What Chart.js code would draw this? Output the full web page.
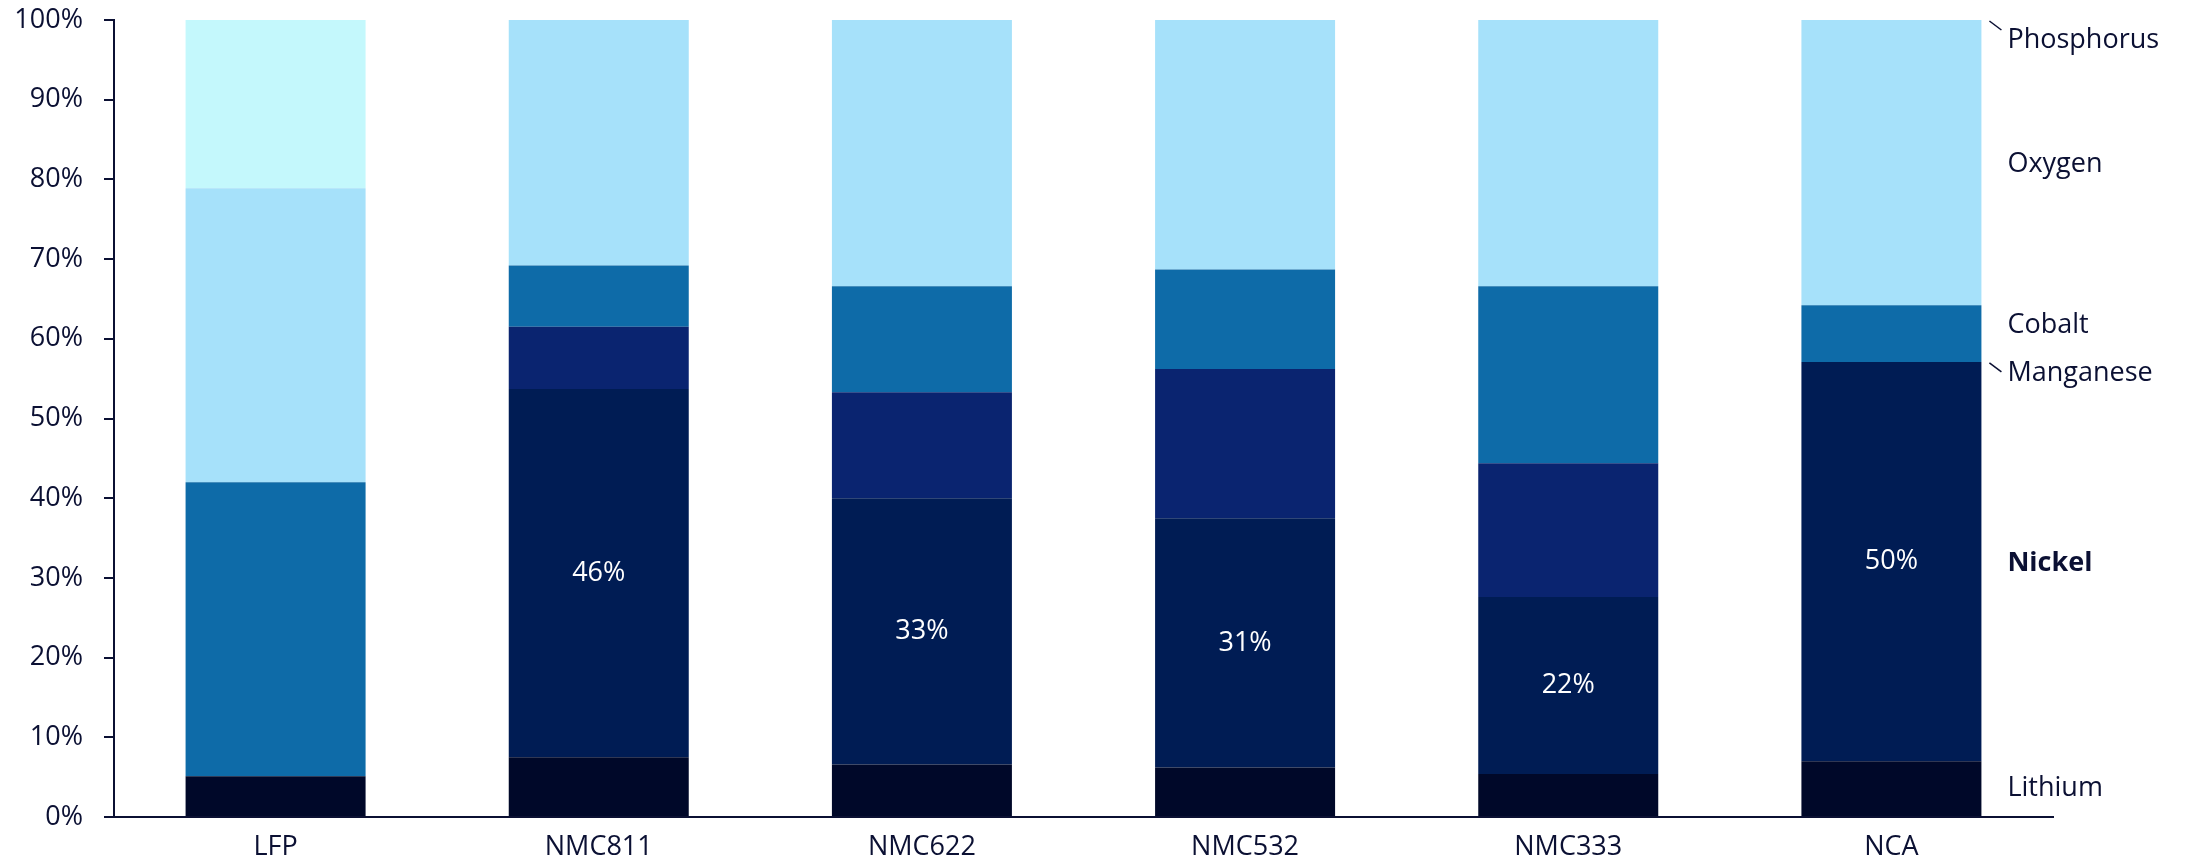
<!DOCTYPE html>
<html>
<head>
<meta charset="utf-8">
<script src="https://cdn.jsdelivr.net/npm/chart.js@4/dist/chart.umd.min.js"></script>
<style>
  html, body { margin: 0; padding: 0; background: #fff; }
  #wrap { width: 2193px; height: 862px; }
</style>
</head>
<body>
<div id="wrap"><canvas id="mix-chart"></canvas></div>
<script>
// Cathode composition by weight share (%)
const categories = ['LFP', 'NMC811', 'NMC622', 'NMC532', 'NMC333', 'NCA'];
const lithium    = [5.1, 7.5, 6.6, 6.2, 5.4, 7.0];
const nickel     = [0, 46.2, 33.4, 31.3, 22.2, 50.1];
const manganese  = [0, 7.8, 13.3, 18.7, 16.8, 0];
const cobalt     = [36.9, 7.7, 13.3, 12.5, 22.2, 7.1];
const oxygen     = [36.9, 30.8, 33.4, 31.3, 33.4, 35.8];
const phosphorus = [21.1, 0, 0, 0, 0, 0];
const yTicks     = [0, 10, 20, 30, 40, 50, 60, 70, 80, 90, 100];

const INK = '#0b1033';
const FONT = '"Open Sans", "Noto Sans", sans-serif';

const series = [
  { label: 'Lithium',    data: lithium,    color: '#000829', dy: 0 },
  { label: 'Nickel',     data: nickel,     color: '#001c54', dy: 2, bold: true, inside: true },
  { label: 'Manganese',  data: manganese,  color: '#0a2470', dy: 11, leader: true },
  { label: 'Cobalt',     data: cobalt,     color: '#0e6ba8', dy: -8 },
  { label: 'Oxygen',     data: oxygen,     color: '#a6e1fa', dy: 2 },
  { label: 'Phosphorus', data: phosphorus, color: '#c4f8fc', dy: 20, leader: true }
];

// labels on the right of the last bar, plus the white % inside nickel segments
const sideLabels = {
  id: 'sideLabels',
  afterDatasetsDraw(chart) {
    const ctx = chart.ctx;
    const last = categories.length - 1;
    ctx.save();
    series.forEach((s, i) => {
      const bar = chart.getDatasetMeta(i).data[last];
      const right = bar.x + bar.width / 2;
      const mid = (bar.y + bar.base) / 2;
      const ty = mid + s.dy;
      ctx.font = (s.bold ? 'bold ' : '') + '27px ' + FONT;
      ctx.fillStyle = INK;
      ctx.textAlign = 'left';
      ctx.textBaseline = 'middle';
      ctx.fillText(s.label, right + 26, ty);
      if (s.leader) {
        ctx.strokeStyle = INK;
        ctx.lineWidth = 1.5;
        ctx.beginPath();
        ctx.moveTo(right + 8, mid + 1);
        ctx.lineTo(right + 20, mid + 10);
        ctx.stroke();
      }
      if (s.inside) {
        chart.getDatasetMeta(i).data.forEach((el, j) => {
          if (!s.data[j]) return;
          ctx.font = '27px ' + FONT;
          ctx.fillStyle = '#ffffff';
          ctx.textAlign = 'center';
          ctx.fillText(Math.round(s.data[j]) + '%', el.x, (el.y + el.base) / 2);
        });
      }
    });
    ctx.restore();
  }
};

new Chart(document.getElementById('mix-chart'), {
  type: 'bar',
  data: {
    labels: categories,
    datasets: series.map(s => ({
      label: s.label,
      data: s.data,
      backgroundColor: s.color,
      borderWidth: 0,
      categoryPercentage: 1,
      barPercentage: 0.557
    }))
  },
  options: {
    responsive: true,
    maintainAspectRatio: false,
    animation: false,
    layout: { padding: { top: 20, right: 140, bottom: 0, left: 0 } },
    plugins: {
      legend: { display: false },
      tooltip: { enabled: false }
    },
    scales: {
      x: {
        stacked: true,
        grid: { display: true, drawOnChartArea: false, drawTicks: false },
        border: { display: true, color: INK, width: 2 },
        ticks: { color: INK, padding: 14, font: { family: FONT, size: 27 } },
        afterFit: s => { s.height = 45; }
      },
      y: {
        stacked: true,
        min: 0,
        max: 100,
        afterBuildTicks: s => { s.ticks = yTicks.map(v => ({ value: v })); },
        grid: { display: true, drawOnChartArea: false, drawTicks: true, tickLength: 10, color: INK, lineWidth: 2 },
        border: { display: true, color: INK, width: 2 },
        ticks: {
          color: INK,
          padding: 21,
          font: { family: FONT, size: 27 },
          callback: v => v + '%'
        },
        afterFit: s => {
          s.width = 114;
          s.paddingTop = 0;
          s.paddingBottom = 0;
        }
      }
    }
  },
  plugins: [sideLabels]
});
</script>
</body>
</html>
